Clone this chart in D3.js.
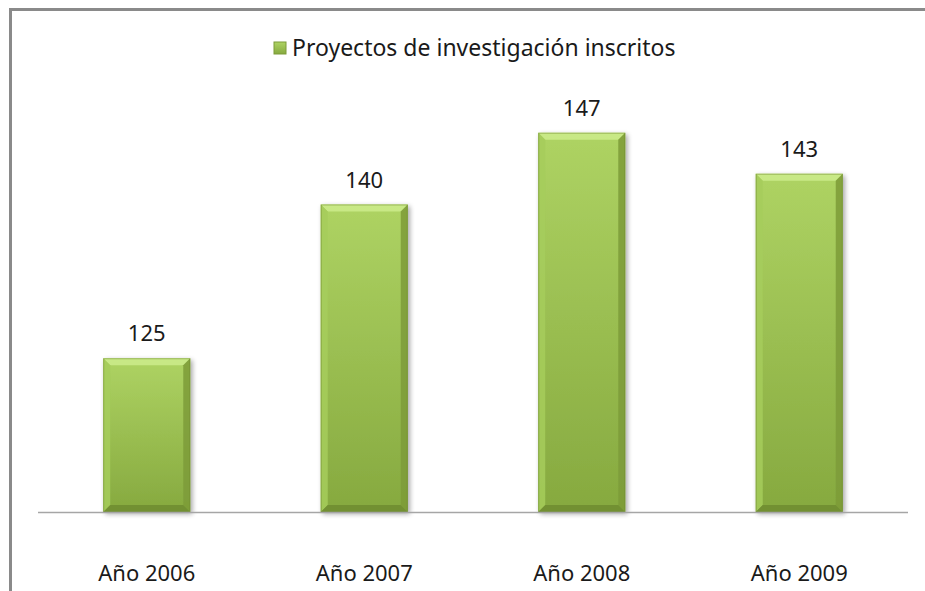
<!DOCTYPE html>
<html>
<head>
<meta charset="utf-8">
<script src="https://cdn.jsdelivr.net/npm/d3@7"></script>
<style>
  body { margin: 0; background: #fff; }
  text { font-family: "Noto Sans", "Open Sans", sans-serif; fill: #1a1a1a; }
</style>
</head>
<body>
<svg id="chart"></svg>
<script>
// datos
const categories = ["Año 2006", "Año 2007", "Año 2008", "Año 2009"];
const values = [125, 140, 147, 143];
const seriesName = "Proyectos de investigación inscritos";

const W = 925, H = 591;
const plot = { left: 38, right: 908, top: 102, bottom: 512 };

const svg = d3.select("#chart")
    .attr("width", W)
    .attr("height", H);

// marco exterior
svg.append("rect")
    .attr("x", 10.5).attr("y", 9.5)
    .attr("width", W + 20).attr("height", H + 20)
    .attr("fill", "none")
    .attr("stroke", "#8a8a8a")
    .attr("stroke-width", 3);

const x = d3.scaleBand()
    .domain(categories)
    .range([plot.left, plot.right])
    .paddingInner(0.6)
    .paddingOuter(0.3);

const y = d3.scaleLinear()
    .domain([110, 150])
    .range([plot.bottom, plot.top]);

const defs = svg.append("defs");
const grad = defs.append("linearGradient")
    .attr("id", "barGrad")
    .attr("x1", 0).attr("y1", 0).attr("x2", 0).attr("y2", 1);
grad.append("stop").attr("offset", "0%").attr("stop-color", "#aed363");
grad.append("stop").attr("offset", "100%").attr("stop-color", "#86a93f");

const shadow = defs.append("filter").attr("id", "shadow")
    .attr("x", "-20%").attr("y", "-20%").attr("width", "140%").attr("height", "140%");
shadow.append("feGaussianBlur").attr("in", "SourceAlpha").attr("stdDeviation", 2.5);
shadow.append("feOffset").attr("dx", 2).attr("dy", 2).attr("result", "b");
shadow.append("feComponentTransfer").append("feFuncA").attr("type", "linear").attr("slope", 0.35);
const merge = shadow.append("feMerge");
merge.append("feMergeNode");
merge.append("feMergeNode").attr("in", "SourceGraphic");

const data = categories.map((c, i) => ({ cat: c, val: values[i] }));
const bev = 7;

const bars = svg.selectAll(".bar")
    .data(data)
    .enter().append("g")
    .attr("class", "bar")
    .attr("filter", "url(#shadow)");

bars.append("rect")
    .attr("x", d => x(d.cat))
    .attr("y", d => y(d.val))
    .attr("width", x.bandwidth())
    .attr("height", d => y(110) - y(d.val))
    .attr("fill", "url(#barGrad)");

// bisel: arriba, izquierda, derecha, abajo
function bevel(d, side) {
    const x0 = x(d.cat), x1 = x0 + x.bandwidth();
    const y0 = y(d.val), y1 = y(110);
    if (side === "top") return [[x0, y0], [x1, y0], [x1 - bev, y0 + bev], [x0 + bev, y0 + bev]];
    if (side === "left") return [[x0, y0], [x0 + bev, y0 + bev], [x0 + bev, y1 - bev], [x0, y1]];
    if (side === "right") return [[x1, y0], [x1 - bev, y0 + bev], [x1 - bev, y1 - bev], [x1, y1]];
    return [[x0, y1], [x0 + bev, y1 - bev], [x1 - bev, y1 - bev], [x1, y1]];
}
const bevelFill = { top: "#cdec8c", left: "#a6cc5c", right: "#7c9b38", bottom: "#6f8c30" };
["top", "left", "right", "bottom"].forEach(side => {
    bars.append("polygon")
        .attr("points", d => bevel(d, side).map(p => p.join(",")).join(" "))
        .attr("fill", bevelFill[side])
        .attr("opacity", 0.85);
});
bars.append("rect")
    .attr("x", d => x(d.cat) + 0.5)
    .attr("y", d => y(d.val) + 0.5)
    .attr("width", x.bandwidth() - 1)
    .attr("height", d => y(110) - y(d.val) - 1)
    .attr("fill", "none")
    .attr("stroke", "#6f8c30")
    .attr("stroke-opacity", 0.5);

// eje horizontal
svg.append("line")
    .attr("x1", plot.left).attr("x2", plot.right)
    .attr("y1", plot.bottom + 0.5).attr("y2", plot.bottom + 0.5)
    .attr("stroke", "#a6a6a6")
    .attr("stroke-width", 1.5);

// etiquetas de valor
svg.selectAll(".value")
    .data(data)
    .enter().append("text")
    .attr("class", "value")
    .attr("x", d => x(d.cat) + x.bandwidth() / 2)
    .attr("y", d => y(d.val) - 17)
    .attr("text-anchor", "middle")
    .style("font-size", "22px")
    .text(d => d.val);

// etiquetas de categoría
svg.selectAll(".cat")
    .data(categories)
    .enter().append("text")
    .attr("class", "cat")
    .attr("x", d => x(d) + x.bandwidth() / 2)
    .attr("y", 581)
    .attr("text-anchor", "middle")
    .style("font-size", "22px")
    .text(d => d);

// leyenda
const legend = svg.append("g").attr("transform", "translate(274,42)");
legend.append("rect")
    .attr("width", 12).attr("height", 12)
    .attr("fill", "url(#barGrad)")
    .attr("stroke", "#7c9b38");
legend.append("text")
    .attr("x", 18).attr("y", 14)
    .style("font-size", "23px")
    .text(seriesName);
</script>
</body>
</html>
